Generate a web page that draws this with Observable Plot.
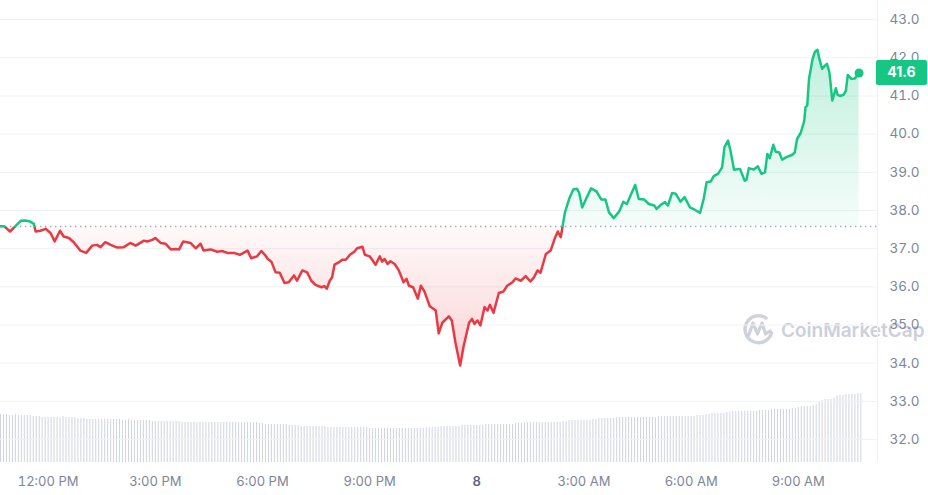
<!DOCTYPE html>
<html><head><meta charset="utf-8">
<script src="https://cdn.jsdelivr.net/npm/d3@7"></script>
<script src="https://cdn.jsdelivr.net/npm/@observablehq/plot@0.6"></script>
<style>
html,body{margin:0;padding:0;background:#fff;}
#wrap{position:relative;width:928px;height:495px;font-family:Inter, sans-serif;}
#wrap svg{position:absolute;left:0;top:0;}
</style></head><body><div id="wrap"></div>
<script>
// ---- data ----
const startMinute = 640; // 10:40 AM, day 7 (minutes since midnight)
const priceMinutes = [
0,6,16,25,34,42,50,56,59,67,
76,84,91,100,106,115,123,134,144,154,
162,168,176,185,196,207,218,227,241,246,
255,260,269,277,286,294,300,307,319,328,
336,341,353,364,372,381,392,402,415,421,
431,438,444,449,455,462,469,477,484,493,
498,507,515,522,529,539,544,548,553,557,
561,568,574,580,587,594,599,608,612,620,
630,637,641,645,650,655,662,669,677,682,
686,693,701,706,712,721,731,736,742,753,
758,764,772,778,787,792,796,801,806,813,
818,822,828,837,845,851,860,865,874,882,
890,896,902,907,916,924,931,936,941,948,
955,962,968,972,977,984,992,1001,1009,1016,
1022,1030,1039,1046,1052,1060,1066,1072,1081,1089,
1098,1102,1109,1116,1121,1128,1134,1142,1149,1158,
1166,1175,1181,1186,1193,1198,1205,1212,1216,1222,
1226,1232,1242,1250,1253,1257,1265,1272,1278,1284,
1288,1292,1298,1302,1308,1313,1319,1330,1334,1338,
1344,1350,1352,1355,1358,1364,1368,1372,1376,1380,
1384,1388,1392,1394,1397,1403,1406,1410,1416,1420,
1423,1429,1435,1442];
const prices = [
37.59,37.59,37.45,37.59,37.73,37.74,37.71,37.65,37.45,37.47,
37.52,37.41,37.19,37.47,37.32,37.28,37.17,36.95,36.89,37.08,
37.10,37.04,37.17,37.10,37.03,37.04,37.15,37.08,37.21,37.19,
37.23,37.28,37.15,37.13,36.98,36.99,36.98,37.19,37.15,37.01,
37.13,36.95,36.98,36.92,36.94,36.89,36.89,36.84,36.95,36.75,
36.80,36.94,36.84,36.73,36.66,36.38,36.37,36.10,36.12,36.30,
36.16,36.43,36.38,36.16,36.05,35.99,36.02,35.95,36.16,36.25,
36.58,36.64,36.71,36.71,36.84,36.92,37.01,37.05,36.84,36.80,
36.58,36.80,36.66,36.73,36.60,36.67,36.60,36.43,36.12,36.21,
36.03,35.99,35.69,36.03,35.88,35.49,35.38,34.78,35.06,35.23,
35.12,34.55,33.94,34.46,35.06,35.16,35.03,35.12,34.99,35.47,
35.38,35.53,35.32,35.84,35.88,36.03,36.12,36.22,36.16,36.28,
36.14,36.25,36.43,36.37,36.86,36.95,37.27,37.45,37.30,37.95,
38.30,38.55,38.57,38.46,38.08,38.32,38.58,38.50,38.29,38.29,
37.95,37.80,37.97,38.23,38.17,38.46,38.67,38.30,38.29,38.17,
38.13,38.04,38.15,38.22,38.13,38.46,38.44,38.23,38.35,38.08,
38.02,37.94,38.30,38.74,38.76,38.90,38.96,39.13,39.66,39.83,
39.57,39.07,39.09,38.78,38.81,39.11,39.07,39.16,38.96,39.00,
39.48,39.37,39.72,39.54,39.52,39.33,39.39,39.46,39.52,39.88,
40.03,40.35,40.70,40.75,41.45,41.97,42.16,42.21,41.93,41.71,
41.78,41.84,41.64,41.36,40.88,41.20,41.03,41.00,41.03,41.14,
41.55,41.45,41.46,41.60];
const basePrice = 37.58;
const volumeStepMinutes = 5;
const volumes = [
48,48,48,47,47,48,47,47,47,47,
47,46,46,46,45,45,45,45,45,45,
45,46,45,45,45,45,44,44,44,43,
43,43,43,43,43,43,43,43,43,43,
43,42,42,43,42,42,42,42,42,42,
42,41,41,41,41,41,41,41,41,41,
41,40,40,40,40,40,40,40,40,40,
40,40,40,40,40,40,40,40,40,40,
40,40,40,40,40,40,40,39,39,38,
38,38,38,38,38,38,38,37,37,37,
37,36,36,36,36,36,36,36,36,36,
35,35,35,35,35,35,35,35,35,35,
35,35,35,35,34,34,34,34,34,34,
34,34,34,34,34,34,34,34,34,34,
34,34,34,35,35,35,35,35,36,36,
36,36,36,36,36,37,37,37,37,37,
37,37,37,38,38,38,38,38,38,38,
38,38,38,39,39,39,40,40,40,40,
40,40,40,40,40,40,40,40,40,41,
41,42,42,42,42,42,42,42,42,43,
43,44,44,44,44,44,44,45,45,45,
45,45,45,45,45,45,45,45,45,45,
45,46,46,46,46,46,46,46,46,46,
46,46,46,46,47,47,47,48,48,49,
49,49,49,49,50,50,51,51,51,51,
51,51,51,51,51,52,52,52,52,53,
53,53,53,53,53,53,54,54,55,56,
56,56,56,57,58,60,62,63,63,63,
64,66,67,67,68,68,68,68,69,69];
const yTicks = [32,33,34,35,36,37,38,39,40,41,42,43];
const xTickMinutes = [720,900,1080,1260,1440,1620,1800,1980];
const xTickLabels = ["12:00 PM","3:00 PM","6:00 PM","9:00 PM","8","3:00 AM","6:00 AM","9:00 AM"];
const xDomain = [640, 2113];
const yDomain = [31.4, 43.5];
const volumeDomain = [0, 82];
const lastPriceLabel = "41.6";
const watermarkText = "CoinMarketCap";

// ---- build ----
const W = 928, H = 495, MR = 51, MB = 33;
const GREEN = "#16c784", RED = "#ea3943";
const priceData = priceMinutes.map((m, i) => ({t: startMinute + m, p: prices[i]}));
const volData = volumes.map((v, i) => ({t: startMinute + i * volumeStepMinutes, v}));
const wrap = document.getElementById("wrap");

const volPlot = Plot.plot({
  width: W, height: H, marginTop: 380, marginBottom: MB, marginLeft: 0, marginRight: MR,
  style: {background: "white"},
  x: {domain: xDomain, axis: null},
  y: {domain: volumeDomain, axis: null},
  marks: [Plot.ruleX(volData, {x: "t", y1: () => 0, y2: "v", stroke: "#cfd4e0", strokeWidth: 1})]
});
wrap.appendChild(volPlot);

// watermark (bottom layer)
const wm = d3.select(volPlot).append("g").attr("fill", "none").attr("stroke", "#cdd2dc");
wm.append("path").attr("stroke-width", 3.4).attr("stroke-linecap", "round")
  .attr("d", "M771.5,333 A13.5,13.5 0 1 1 766,318");
wm.append("path").attr("stroke-width", 3.2).attr("stroke-linecap", "round").attr("stroke-linejoin", "round")
  .attr("d", "M748,337 L753,323 L757.5,334 L762,323 L765.5,334 L770,331");
d3.select(volPlot).append("text").attr("x", 781).attr("y", 337)
  .attr("font-family", "Inter, sans-serif").attr("font-size", 19).attr("font-weight", 600)
  .attr("fill", "#cbd0da").attr("text-anchor", "start").text(watermarkText);

const main = Plot.plot({
  width: W, height: H, marginTop: 0, marginBottom: MB, marginLeft: 0, marginRight: MR,
  style: {background: "transparent", fontFamily: "Inter, sans-serif", fontSize: "13px", color: "#7d8699"},
  x: {domain: xDomain, ticks: xTickMinutes, tickFormat: d => xTickLabels[xTickMinutes.indexOf(d)], tickSize: 0, tickPadding: 14, label: null},
  y: {domain: yDomain, ticks: yTicks, tickFormat: d3.format(".1f"), axis: "right", tickSize: 0, tickPadding: 12, label: null},
  marks: [
    Plot.ruleY(yTicks, {stroke: "#eff2f5", strokeWidth: 1}),
    Plot.ruleX([xDomain[1]], {stroke: "#eff2f5", strokeWidth: 1}),
    Plot.areaY(priceData, {x: "t", y1: () => basePrice, y2: "p", fill: "url(#areaGrad)"}),
    Plot.ruleY([basePrice], {stroke: "#a3abbb", strokeWidth: 1.4, strokeDasharray: "1.4,3.6"}),
    Plot.line(priceData, {x: "t", y: "p", stroke: "url(#lineGrad)", strokeWidth: 2.5, strokeLinejoin: "round"}),
    Plot.dot([priceData[priceData.length - 1]], {x: "t", y: "p", r: 4.5, fill: GREEN})
  ]
});
wrap.appendChild(main);

const ys = main.scale("y"), xs = main.scale("x");
const yBase = ys.apply(basePrice);
const yTop = ys.apply(d3.max(prices)), yBot = ys.apply(d3.min(prices));
const svg = d3.select(main);
const defs = svg.insert("defs", ":first-child");
const lg = defs.append("linearGradient").attr("id", "lineGrad").attr("gradientUnits", "userSpaceOnUse")
  .attr("x1", 0).attr("x2", 0).attr("y1", 0).attr("y2", H);
lg.append("stop").attr("offset", yBase / H).attr("stop-color", GREEN);
lg.append("stop").attr("offset", yBase / H).attr("stop-color", RED);
const ag = defs.append("linearGradient").attr("id", "areaGrad").attr("gradientUnits", "userSpaceOnUse")
  .attr("x1", 0).attr("x2", 0).attr("y1", yTop).attr("y2", yBot);
const off = (yBase - yTop) / (yBot - yTop);
ag.append("stop").attr("offset", 0).attr("stop-color", GREEN).attr("stop-opacity", 0.27);
ag.append("stop").attr("offset", off).attr("stop-color", GREEN).attr("stop-opacity", 0.04);
ag.append("stop").attr("offset", off).attr("stop-color", RED).attr("stop-opacity", 0.03);
ag.append("stop").attr("offset", 1).attr("stop-color", RED).attr("stop-opacity", 0.22);

// y tick labels slightly larger
svg.selectAll('g[aria-label="y-axis tick label"] text').attr("font-size", 13.5);

// bold date tick
svg.selectAll("text").filter(function(){ return this.textContent === "8"; })
  .attr("font-weight", 600).attr("fill", "#58667e");

// last price tag
const yLast = ys.apply(prices[prices.length - 1]);
const xEdge = xs.apply(xDomain[1]);
const tag = svg.append("g");
tag.append("rect").attr("x", xEdge - 1).attr("y", yLast - 12.5).attr("width", 51).attr("height", 25)
  .attr("rx", 2).attr("fill", GREEN);
tag.append("text").attr("x", xEdge + 24.5).attr("y", yLast).attr("dy", "0.35em")
  .attr("text-anchor", "middle").attr("fill", "#fff").attr("font-size", 14).attr("font-weight", 700)
  .attr("font-family", "Inter, sans-serif").text(lastPriceLabel);
</script></body></html>
